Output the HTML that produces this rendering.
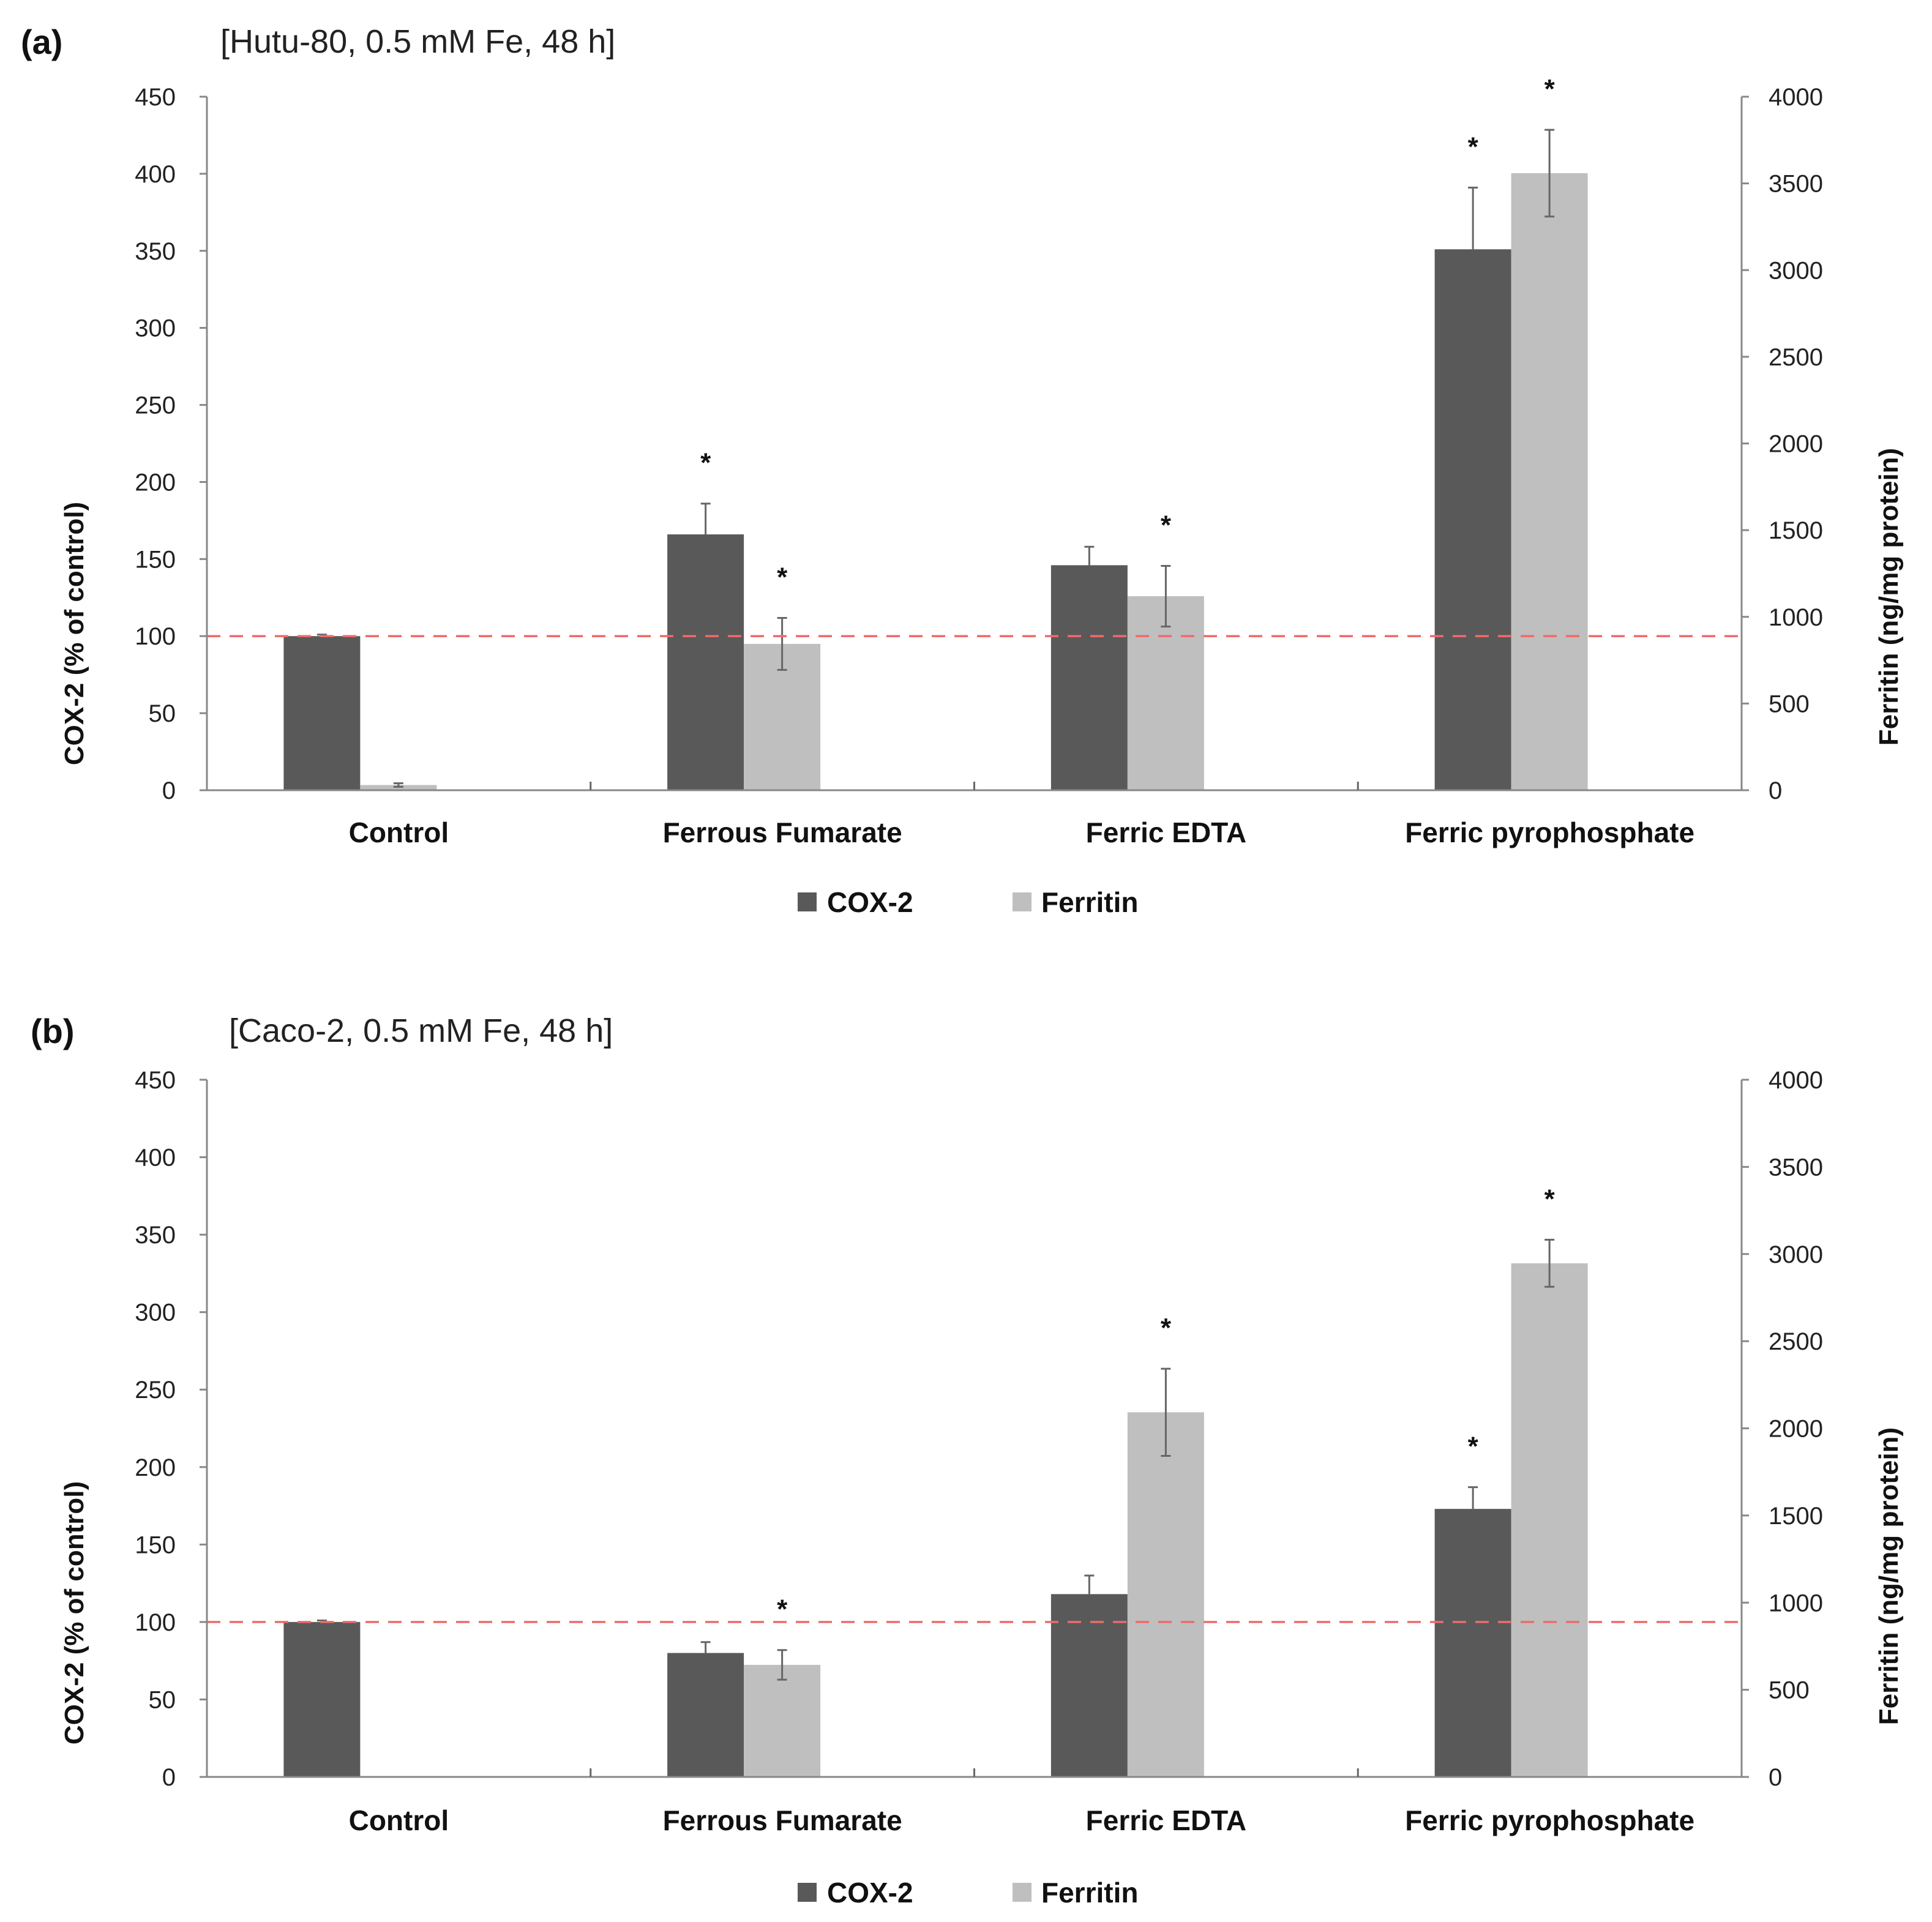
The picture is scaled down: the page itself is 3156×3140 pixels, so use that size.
<!DOCTYPE html>
<html><head><meta charset="utf-8">
<style>
html,body{margin:0;padding:0;background:#fff;}
svg{display:block;font-family:"Liberation Sans",sans-serif;}
</style></head>
<body>
<svg id="fig" width="3156" height="3140" viewBox="0 0 3156 3140" xmlns="http://www.w3.org/2000/svg"></svg>
<script>
const categories = ["Control","Ferrous Fumarate","Ferric EDTA","Ferric pyrophosphate"];
const leftTicks = [0,50,100,150,200,250,300,350,400,450];
const rightTicks = [0,500,1000,1500,2000,2500,3000,3500,4000];
// Panel a (Hutu-80)
const coxA = [100,166,146,351];
const coxErrA = [1,20,12,40];
const ferA = [30,844,1119,3559];
const ferErrA = [10,150,175,250];
const coxSigA = [false,true,false,true];
const ferSigA = [false,true,true,true];
// Panel b (Caco-2)
const coxB = [100,80,118,173];
const coxErrB = [1,7,12,14];
const ferB = [5,643,2092,2947];
const ferErrB = [0,85,250,135];
const coxSigB = [false,false,false,true];
const ferSigB = [false,true,true,true];
const refLine = 100;

const NS="http://www.w3.org/2000/svg";
const svg=document.getElementById('fig');
function mk(tag,attrs,parent){const e=document.createElementNS(NS,tag);for(const k in attrs)e.setAttribute(k,attrs[k]);(parent||svg).appendChild(e);return e;}
function txt(s,attrs,parent){const e=mk('text',attrs,parent);e.textContent=s;return e;}

function panel(opt){
  const g=mk('g',{});
  
  
  const X0=338,X1=2845,Y0=opt.y0,YT=opt.yTop;
  const yL=v=>Y0-(v/450)*(Y0-YT);
  const yR=v=>Y0-(v/4000)*(Y0-YT);
  const cw=(X1-X0)/categories.length;
  const cx=i=>X0+cw*(i+0.5);
  const bw=125;
  let t=txt(opt.letter,{x:opt.letterX,y:opt.titleY+2,'font-size':56,'font-weight':'bold',fill:'#111'},g);
  
  t=txt(opt.title,{x:opt.titleX,y:opt.titleY,'font-size':54,fill:'#222'},g);
  
  for(let i=0;i<categories.length;i++){
    const c=cx(i);
    const xa=c-188, xb=c-63;
    let r=mk('rect',{x:xa,y:yL(opt.cox[i]),width:bw,height:Y0-yL(opt.cox[i]),fill:'#595959'},g);
    
    r=mk('rect',{x:xb,y:yR(opt.fer[i]),width:bw,height:Y0-yR(opt.fer[i]),fill:'#bfbfbf'},g);
    
    const ec=xa+bw/2, ef=xb+bw/2;
    const cTop=yL(opt.cox[i]+opt.coxErr[i]), cBase=yL(opt.cox[i]);
    const fTop=yR(opt.fer[i]+opt.ferErr[i]), fBot=yR(opt.fer[i]-opt.ferErr[i]);
    let e=mk('path',{d:`M${ec},${cBase}V${cTop}M${ec-8},${cTop}H${ec+8}`,stroke:'#666','stroke-width':3,fill:'none'},g);
    
    if(opt.ferErr[i]>0){
    e=mk('path',{d:`M${ef},${fBot}V${fTop}M${ef-8},${fTop}H${ef+8}M${ef-8},${fBot}H${ef+8}`,stroke:'#666','stroke-width':3,fill:'none'},g);
    
    }
    if(opt.coxSig[i]){let s=txt('*',{x:ec,y:cTop-52,'font-size':44,'font-weight':'bold','text-anchor':'middle',fill:'#111'},g);}
    if(opt.ferSig[i]){let s=txt('*',{x:ef,y:fTop-52,'font-size':44,'font-weight':'bold','text-anchor':'middle',fill:'#111'},g);}
    let l=txt(categories[i],{x:c,y:opt.catY,'font-size':46,'font-weight':'bold','text-anchor':'middle',fill:'#111'},g);
    
  }
  let d=mk('line',{x1:X0,x2:X1,y1:yL(refLine),y2:yL(refLine),stroke:'#f06a6a','stroke-width':3.5,'stroke-dasharray':'22 15'},g);
  
  let a=mk('path',{d:`M${X0},${YT}V${Y0}H${X1}V${YT}`,stroke:'#888','stroke-width':3,fill:'none'},g);
  
  for(let i=1;i<categories.length;i++){mk('line',{x1:X0+cw*i,x2:X0+cw*i,y1:Y0,y2:Y0-14,stroke:'#666','stroke-width':3},g);}
  leftTicks.forEach(v=>{
    mk('line',{x1:X0-12,x2:X0,y1:yL(v),y2:yL(v),stroke:'#888','stroke-width':3},g);
    const tl=txt(v,{x:287,y:yL(v)+14,'font-size':40,'text-anchor':'end',fill:'#222'},g);
    
  });
  rightTicks.forEach(v=>{
    mk('line',{x1:X1,x2:X1+12,y1:yR(v),y2:yR(v),stroke:'#888','stroke-width':3},g);
    const tr=txt(v,{x:2889,y:yR(v)+14,'font-size':40,'text-anchor':'start',fill:'#222'},g);
    
  });
  let ly=txt('COX-2 (% of control)',{x:0,y:0,'font-size':44,'font-weight':'bold','text-anchor':'middle',fill:'#111',transform:`translate(136,${opt.ltY}) rotate(-90)`},g);
  
  let ry=txt('Ferritin (ng/mg protein)',{x:0,y:0,'font-size':44,'font-weight':'bold','text-anchor':'middle',fill:'#111',transform:`translate(3100,${opt.rtY}) rotate(-90)`},g);
  
  const lg=mk('g',{},g);
  
  let s1=mk('rect',{x:1303,y:opt.legY-32,width:31,height:31,fill:'#595959'},lg);
  
  let t1=txt('COX-2',{x:1351,y:opt.legY,'font-size':46,'font-weight':'bold',fill:'#111'},lg);
  
  let s2=mk('rect',{x:1654,y:opt.legY-32,width:31,height:31,fill:'#bfbfbf'},lg);
  
  let t2=txt('Ferritin',{x:1701,y:opt.legY,'font-size':46,'font-weight':'bold',fill:'#111'},lg);
  
}
panel({name:'panel-a',letter:'(a)',letterX:34,title:'[Hutu-80, 0.5 mM Fe, 48 h]',titleX:360,titleY:86,y0:1291,yTop:158,catY:1376,legY:1490,ltY:1035,rtY:975,
  cox:coxA,coxErr:coxErrA,fer:ferA,ferErr:ferErrA,coxSig:coxSigA,ferSig:ferSigA});
panel({name:'panel-b',letter:'(b)',letterX:50,title:'[Caco-2, 0.5 mM Fe, 48 h]',titleX:374,titleY:1702,y0:2903,yTop:1764,catY:2990,legY:3108,ltY:2635,rtY:2575,
  cox:coxB,coxErr:coxErrB,fer:ferB,ferErr:ferErrB,coxSig:coxSigB,ferSig:ferSigB});
</script>
</body></html>
